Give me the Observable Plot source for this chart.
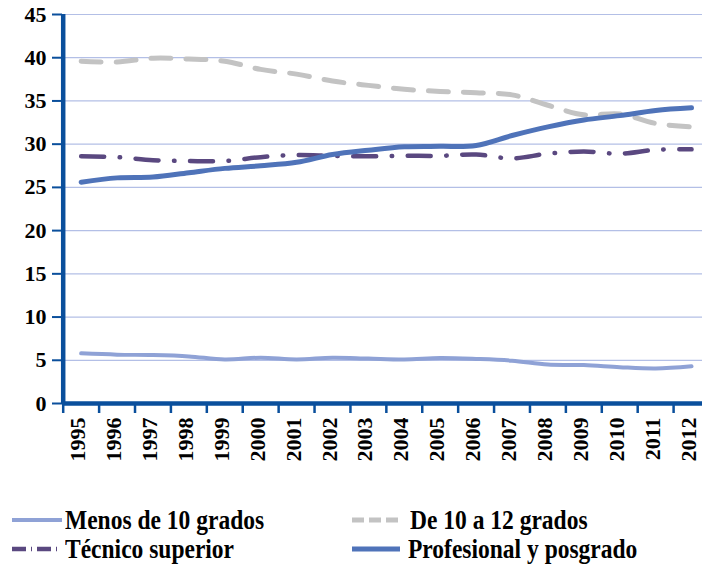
<!DOCTYPE html>
<html>
<head>
<meta charset="utf-8">
<script src="https://cdn.jsdelivr.net/npm/d3@7"></script>
<script src="https://cdn.jsdelivr.net/npm/@observablehq/plot@0.6"></script>
<style>
  html, body { margin: 0; padding: 0; background: #fff; }
  #wrap { position: relative; width: 702px; height: 564px; overflow: hidden; }
  #chart { position: absolute; left: 0; top: 0; }
  .leg { position: absolute; display: flex; align-items: center; font-family: "Liberation Serif", "Times New Roman", serif; font-weight: bold; font-size: 23.5px; line-height: 24px; color: #000; white-space: nowrap; }
  .leg svg { display: block; margin-right: 2px; }
  .leg span { display: inline-block; transform: scaleY(1.14); transform-origin: 50% 60%; }
</style>
</head>
<body>
<div id="wrap">
  <div id="chart"></div>
</div>
<script>
// ---- data ----
const years = [1995, 1996, 1997, 1998, 1999, 2000, 2001, 2002, 2003, 2004, 2005, 2006, 2007, 2008, 2009, 2010, 2011, 2012];
const menos10 = [5.8, 5.65, 5.6, 5.45, 5.1, 5.3, 5.1, 5.3, 5.2, 5.1, 5.25, 5.15, 4.95, 4.5, 4.45, 4.2, 4.05, 4.3];
const de10a12 = [39.6, 39.5, 39.95, 39.85, 39.6, 38.65, 38.1, 37.3, 36.8, 36.35, 36.1, 35.95, 35.7, 34.5, 33.4, 33.5, 32.4, 32.0];
const tecnico = [28.6, 28.5, 28.15, 28.05, 28.05, 28.5, 28.75, 28.65, 28.6, 28.65, 28.65, 28.8, 28.35, 28.9, 29.15, 28.9, 29.35, 29.4];
const profesional = [25.6, 26.1, 26.2, 26.7, 27.2, 27.5, 27.9, 28.8, 29.3, 29.7, 29.75, 29.85, 31.0, 32.0, 32.8, 33.3, 33.9, 34.2];
const seriesNames = ["Menos de 10 grados", "De 10 a 12 grados", "Técnico superior", "Profesional y posgrado"];
const yTicks = [0, 5, 10, 15, 20, 25, 30, 35, 40, 45];

// ---- styles ----
const axisBlue = "#0a4f9c";
const gridBlue = "#b3bfe6";
const colors = ["#8fa2d6", "#c3c3c3", "#5a4880", "#4f73b9"];
const dashes = [null, "20,15", "23,15.5,0.5,15.5", null];
const widths = [4, 5, 4.5, 5];

const tidy = (vals) => years.map((year, i) => ({year, value: vals[i]}));
const seriesData = [menos10, de10a12, tecnico, profesional].map(tidy);
const edges = years.map(y => y - 0.5);

const lineMarks = seriesData.map((d, i) => Plot.line(d, {
  x: "year", y: "value",
  stroke: colors[i], strokeWidth: widths[i],
  strokeDasharray: dashes[i] ?? undefined,
  strokeLinecap: "round", strokeLinejoin: "round",
  curve: "catmull-rom"
}));

const font = "'Liberation Serif', 'Times New Roman', serif";

const chart = Plot.plot({
  width: 702,
  height: 480,
  marginLeft: 62,
  marginRight: 0,
  marginTop: 14,
  marginBottom: 77,
  style: {fontFamily: font, background: "transparent", overflow: "visible"},
  x: {type: "linear", domain: [1994.5, 2012.5], range: [62.7, 709]},
  y: {domain: [0, 45]},
  marks: [
    Plot.ruleY(yTicks.filter(d => d > 0), {stroke: gridBlue, strokeWidth: 1.2}),
    ...lineMarks,
    Plot.axisY({
      ticks: yTicks, tickSize: 10, tickPadding: 6,
      stroke: axisBlue, strokeWidth: 2, fill: "#000",
      fontSize: 22, fontWeight: "bold", fontFamily: font,
      label: null
    }),
    Plot.axisX({
      ticks: edges, tickSize: 10, tickFormat: () => "",
      stroke: axisBlue, strokeWidth: 2.5, label: null
    }),
    Plot.axisX({
      ticks: years, tickSize: 0, tickPadding: 14, tickRotate: -90,
      tickFormat: d => String(d), fill: "#000", dx: -3,
      fontSize: 22, fontWeight: "bold", fontFamily: font, label: null
    }),
    Plot.ruleX([1994.5], {stroke: axisBlue, strokeWidth: 4.5}),
    Plot.ruleY([0], {stroke: axisBlue, strokeWidth: 4.5})
  ]
});
document.getElementById("chart").appendChild(chart);

// ---- legend (HTML below the SVG) ----
const wrap = document.getElementById("wrap");
const legendPos = [
  {left: 12, top: 508},
  {left: 352, top: 508},
  {left: 12, top: 537},
  {left: 352, top: 537}
];
const swatchW = [50, 50, 50, 48];
const legendDash = [null, "12,5", "14,5,1,5", null];
seriesNames.forEach((name, i) => {
  const div = document.createElement("div");
  div.className = "leg";
  div.style.left = legendPos[i].left + "px";
  div.style.top = legendPos[i].top + "px";
  const w = swatchW[i];
  const dash = legendDash[i] ? `stroke-dasharray="${legendDash[i]}"` : "";
  div.innerHTML = `<svg width="${w}" height="10"><line x1="0" y1="5" x2="${w}" y2="5" stroke="${colors[i]}" stroke-width="${widths[i]}" ${dash}/></svg><span style="margin-left:${i % 2 ? 6 : 1}px">${name}</span>`;
  wrap.appendChild(div);
});
</script>
</body>
</html>
